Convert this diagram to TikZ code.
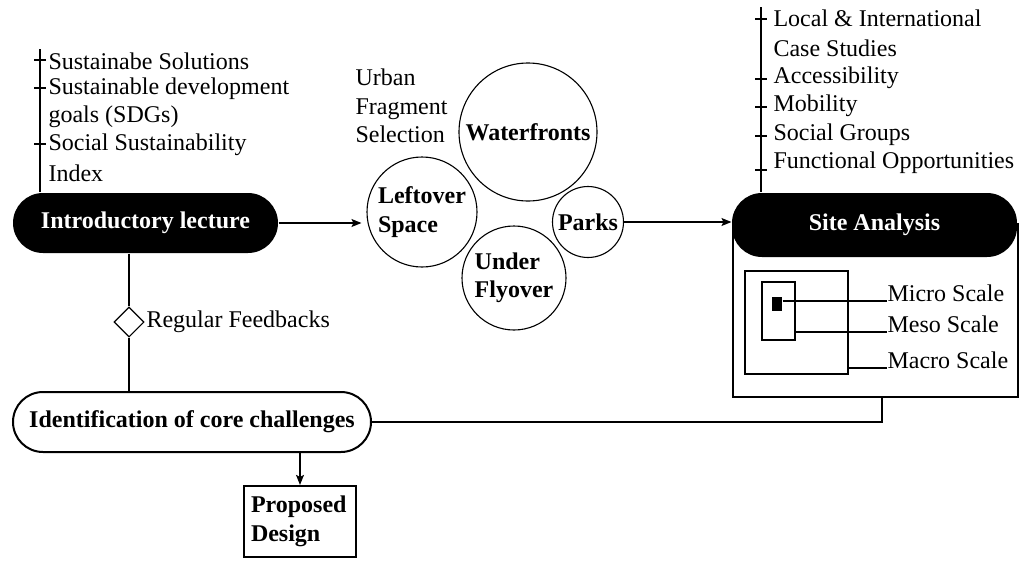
\documentclass[tikz,border=0pt]{standalone}
\usepackage{fontspec}
\setmainfont{Liberation Serif}
\usetikzlibrary{shapes.geometric,arrows.meta}
\begin{document}
\begin{tikzpicture}[x=1pt,y=-1pt,
  font=\fontsize{24}{28.5}\selectfont,
  line width=1.1pt,
  blackpill/.style={rectangle, rounded corners=30pt, fill=black, text=white, font=\fontsize{24}{28.5}\selectfont\bfseries, inner sep=0pt},
  whitepill/.style={rectangle, rounded corners=30pt, draw, line width=2pt, fill=white, font=\fontsize{24}{28.5}\selectfont\bfseries, inner sep=0pt},
  circ/.style={circle, draw, inner sep=0pt, align=left, font=\fontsize{24}{28.5}\selectfont\bfseries},
  pbox/.style={rectangle, draw, line width=2.2pt, inner sep=0pt, align=left, font=\fontsize{24}{28.5}\selectfont\bfseries},
  lbl/.style={inner sep=0pt, align=left},
  arr/.style={-{Stealth[length=10pt,width=8pt,inset=2pt]}},
  tick/.style={line width=1.1pt}
]
\useasboundingbox (0,0) rectangle (1021,563);

% ---- left list
\node[lbl, anchor=west] (s1) at (48,61) {Sustainabe Solutions};
\node[lbl, anchor=west] (s2) at (48,89) {Sustainable development};
\node[lbl, anchor=west] (s2b) at (48,117) {goals (SDGs)};
\node[lbl, anchor=west] (s3) at (48,145) {Social Sustainability};
\node[lbl, anchor=west] (s3b) at (48,173) {Index};

% ---- intro
\node[blackpill, minimum width=265pt, minimum height=60pt] (intro) at (145.5,223) {Introductory lecture};
\coordinate (ltop) at (40,49);
\draw (ltop) -- (ltop |- intro.north);
\foreach \n in {s1,s2,s3} \draw[tick] (34,0 |- \n.west) ++(0,-1) -- ++(12,0);

% ---- circles
\node[lbl, anchor=west] (urban) at (355,106) {Urban\\Fragment\\Selection};
\node[circ, minimum size=138pt] (water) at (528,132) {Waterfronts};
\node[circ, minimum size=110pt] (left) at (422,212) {Leftover\\Space};
\node[circ, minimum size=71pt] (parks) at (588,222) {Parks};
\node[circ, minimum size=104pt] (under) at (514,278) {Under\\Flyover};

\draw[arr, shorten >=5pt] (intro.east) -- (intro.east -| left.west);

% ---- right list
\node[lbl, anchor=west] (r1) at (773,18) {Local \& International};
\node[lbl, anchor=west] (r1b) at (773,48) {Case Studies};
\node[lbl, anchor=west] (r2) at (773,78) {Accessibility};
\node[lbl, anchor=west] (r3) at (773,106) {Mobility};
\node[lbl, anchor=west] (r4) at (773,135) {Social Groups};
\node[lbl, anchor=west] (r5) at (773,163) {Functional Opportunities};

% ---- site analysis
\node[draw, fill=white, minimum width=285pt, minimum height=173pt, inner sep=0pt] (frame) at (875.5,310.5) {};
\node[blackpill, minimum width=285pt, minimum height=64pt] (site) at (874.5,225) {Site Analysis};
\coordinate (rtop) at (761,7);
\draw (rtop) -- (rtop |- site.north);
\foreach \n in {r1,r2,r3,r4} \draw[tick] (755,0 |- \n.west) ++(0,1) -- ++(12,0);
\draw[tick] (755,0 |- r5.west) ++(0,7) -- ++(12,0);

\draw[arr] (parks.east) -- (parks.east -| site.west);

\node[draw, minimum width=103pt, minimum height=103pt, inner sep=0pt] (macro) at (796.5,322.5) {};
\node[draw, minimum width=33pt, minimum height=58pt, inner sep=0pt] (meso) at (778.5,311) {};
\node[fill=black, minimum width=10pt, minimum height=14pt, inner sep=0pt] (micro) at (777,304) {};

\node[lbl, anchor=base west] (microl) at (887,301) {Micro Scale};
\node[lbl, anchor=base west] (mesol) at (887,332) {Meso Scale};
\node[lbl, anchor=base west] (macrol) at (887,368) {Macro Scale};
\draw (micro.east |- microl.base west) -- (microl.base west);
\draw (meso.east |- mesol.base west) -- (mesol.base west);
\draw (macro.east |- macrol.base west) -- (macrol.base west);

% ---- identification
\node[whitepill, minimum width=358pt, minimum height=60pt] (ident) at (192,422) {Identification of core challenges};
\draw ([xshift=6.5pt]frame.south) |- (ident.east);

\node[diamond, draw, fill=white, minimum width=30pt, minimum height=30pt, inner sep=0pt] (dia) at (129,322) {};
\node[lbl, anchor=west] (fb) at (146,322) {Regular Feedbacks};
\draw (dia |- intro.south) -- (dia.north);
\draw (dia.south) -- (dia |- ident.north);

% ---- proposed design
\node[pbox, minimum width=112pt, minimum height=71pt, text width=98pt] (prop) at (300,521.5) {Proposed\\Design};
\draw[arr] (ident.south -| prop.north) -- (prop.north);
\end{tikzpicture}
\end{document}
